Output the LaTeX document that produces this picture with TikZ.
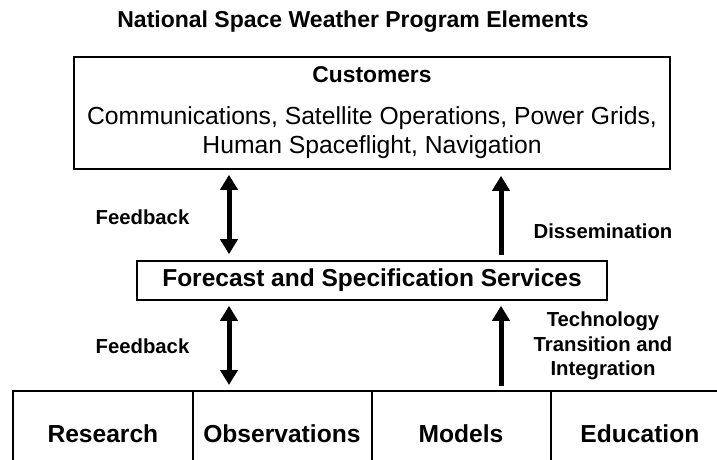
\documentclass[tikz,border=0pt]{standalone}
\usepackage{fontspec}
\setmainfont{Liberation Sans}
\usetikzlibrary{matrix,arrows.meta}
\newcommand{\lblfont}{\fontsize{10.15}{12.25}\selectfont\bfseries}

\begin{document}
\begin{tikzpicture}[x=0.5pt,y=-0.5pt,
        box/.style={draw,line width=0.8pt,inner sep=0pt},
        bigarrow/.style={line width=2.5pt,-{Triangle[width=8.5pt,length=7.5pt]}},
        dblarrow/.style={line width=2.5pt,{Triangle[width=8.5pt,length=7.5pt]}-{Triangle[width=8.5pt,length=7.5pt]}},
        lbl/.style={font=\lblfont,align=center,inner sep=0pt}]
            \clip (0,0) rectangle (717,460);

            \node[font=\fontsize{11.5}{14}\selectfont\bfseries] (title) at (353,22) {National Space Weather Program Elements};

            \node[box,minimum width=298pt,minimum height=56pt,align=center,font=\fontsize{12.35}{14.8}\selectfont] (cust) at (372,113)
                {{\fontsize{11.4}{14}\selectfont\bfseries Customers}\\[6pt]
                 Communications, Satellite Operations, Power Grids,\\
                 Human Spaceflight, Navigation};

            \node[box,minimum width=235pt,minimum height=19.5pt,font=\fontsize{12.25}{14}\selectfont\bfseries] (fss) at (372,280.5)
                {Forecast and Specification Services};

            \matrix (m) [matrix of nodes,anchor=north west,inner sep=0pt,column sep=0pt,
                         nodes={minimum width=89.5pt,minimum height=42pt,inner sep=0pt,font=\fontsize{12.3}{14}\selectfont\bfseries}
                        ] at (13,391)
            {
 Research & Observations & Models & Education \\
             };

            \draw[line width=0.8pt] (m-1-1.south west) |- (m-1-4.north east);
            \foreach \c in {1,2,3}
                \draw[line width=0.8pt] (m-1-\c.north east) -- (m-1-\c.south east);
            \draw[line width=0.8pt] (m-1-1.south west) -- ++(0,40);
            \foreach \c in {1,2,3}
                \draw[line width=0.8pt] (m-1-\c.south east) -- ++(0,40);

            % Arrows
            \coordinate (lx) at (229,0);
            \coordinate (rx) at (501,0);
            \draw[dblarrow,shorten <=2.5pt,shorten >=3pt] (cust.south -| lx) -- (fss.north -| lx);
            \draw[dblarrow,shorten <=2.5pt,shorten >=3pt] (fss.south -| lx) -- (m-1-2.north -| lx);
            \draw[bigarrow,shorten <=2.5pt,shorten >=3pt] (fss.north -| rx) -- (cust.south -| rx);
            \draw[bigarrow,shorten <=2.5pt,shorten >=2.5pt] (m-1-3.north -| rx) -- (fss.south -| rx);

            % Labels
            \node[lbl] (fb1) at (142.5,217) {Feedback};
            \node[lbl] (fb2) at (142.5,346) {Feedback};
            \node[lbl] (dis) at (603,231) {Dissemination};
            \node[lbl] (tti) at (603,346) {Technology\\Transition and\\Integration};
    \end{tikzpicture}
\end{document}
